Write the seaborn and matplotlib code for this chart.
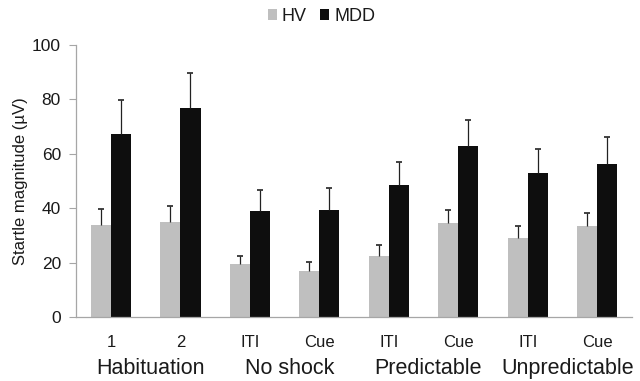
import numpy as np
import pandas as pd
import matplotlib
matplotlib.use("Agg")
import matplotlib.pyplot as plt
import seaborn as sns
from matplotlib.patches import Patch

# data
conditions = ["1", "2", "ITI", "Cue", "ITI", "Cue", "ITI", "Cue"]
phases = ["Habituation", "No shock", "Predictable", "Unpredictable"]
hv_mean = [33.8, 34.8, 19.3, 16.9, 22.5, 34.6, 28.9, 33.4]
hv_sem = [5.8, 6.1, 3.3, 3.2, 4.0, 4.9, 4.6, 5.0]
mdd_mean = [67.1, 76.9, 39.0, 39.4, 48.6, 62.7, 52.8, 56.4]
mdd_sem = [12.7, 12.7, 7.5, 8.0, 8.5, 9.7, 8.9, 9.6]

slots = [f"{i}" for i in range(len(conditions))]
df = pd.DataFrame({
    "slot": slots * 2,
    "group": ["HV"] * len(slots) + ["MDD"] * len(slots),
    "value": hv_mean + mdd_mean,
})

sns.set_theme(style="white")
plt.rcParams["font.family"] = ["Liberation Sans", "DejaVu Sans"]

colors = {"HV": "#bfbfbf", "MDD": "#0e0e0e"}
text_col = "#1a1a1a"
axis_col = "#a6a6a6"

fig, ax = plt.subplots(figsize=(6.4, 3.81), dpi=100)
fig.subplots_adjust(left=0.119, right=0.9875, bottom=0.168, top=0.882)

sns.barplot(data=df, x="slot", y="value", hue="group", palette=colors,
            errorbar=None, width=0.58, saturation=1, linewidth=0,
            ax=ax, legend=False)

# upward-only error bars: stem plus a cap at the top
for cont, err in zip(ax.containers, [hv_sem, mdd_sem]):
    xs = np.array([p.get_x() + p.get_width() / 2 for p in cont.patches])
    ys = np.array([p.get_height() for p in cont.patches])
    tops = ys + np.array(err)
    ax.vlines(xs, ys, tops, color="#222222", linewidth=0.9)
    ax.plot(xs, tops, linestyle="none", marker="_", markersize=4.5,
            markeredgewidth=1.2, color="#222222")

ax.set_ylim(0, 100)
ax.set_xlim(-0.5, len(conditions) - 0.5)
ax.set_yticks(range(0, 101, 20))
ax.set_xticks(range(len(conditions)))
ax.set_xticklabels(conditions)
ax.set_xticks(np.arange(-0.5, len(conditions), 1), minor=True)
ax.tick_params(axis="x", which="major", length=0, pad=13, labelsize=12, labelcolor=text_col)
ax.tick_params(axis="x", which="minor", length=5, width=0.8, color=axis_col, direction="out")
ax.tick_params(axis="y", length=5, width=0.8, color=axis_col, direction="out",
               labelsize=12.5, labelcolor=text_col, left=True, pad=6)
ax.set_xlabel("")
ax.set_ylabel("Startle magnitude (µV)", fontsize=12, color=text_col, labelpad=3)

sns.despine(ax=ax)
for s in ["left", "bottom"]:
    ax.spines[s].set_color(axis_col)
    ax.spines[s].set_linewidth(0.9)

# phase labels under the pairs of conditions
for i, ph in enumerate(phases):
    ax.text(2 * i + 0.57, -0.188, ph, transform=ax.get_xaxis_transform(),
            ha="center", va="center", fontsize=15.5, color=text_col)

handles = [Patch(facecolor=colors[g], edgecolor="none", label=g) for g in ["HV", "MDD"]]
fig.legend(handles=handles, loc="center", bbox_to_anchor=(0.502, 0.957), ncol=2,
           frameon=False, fontsize=13, handlelength=0.5, handleheight=0.5,
           handletextpad=0.3, columnspacing=0.7, labelcolor=text_col)

fig.savefig("out.png", dpi=100)
